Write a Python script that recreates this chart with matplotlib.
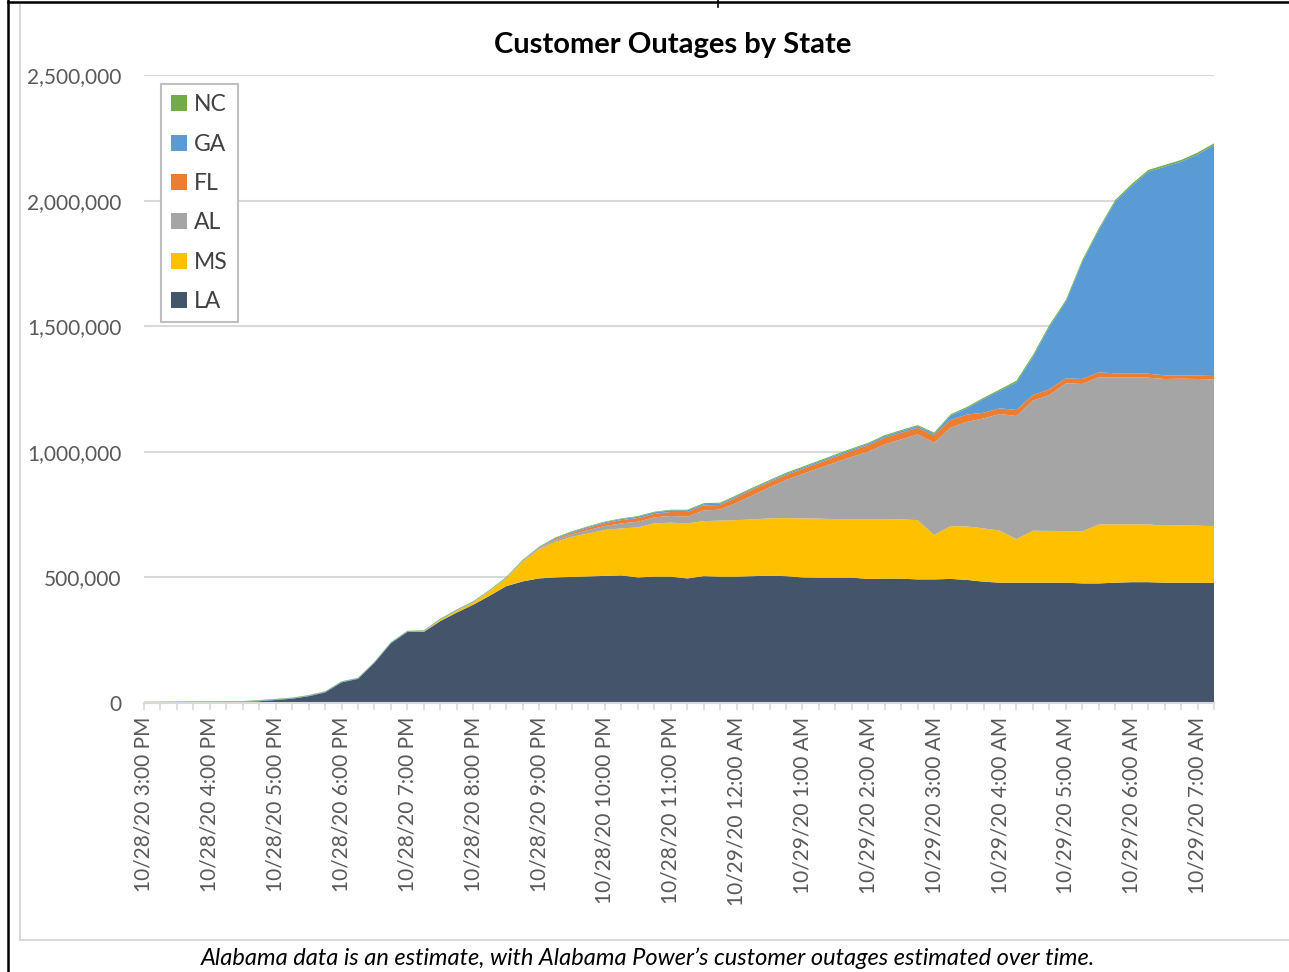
import matplotlib
matplotlib.use("Agg")
import matplotlib.pyplot as plt
from matplotlib.patches import Patch
from matplotlib.lines import Line2D
import numpy as np

# ---------------- data (15-minute intervals, 10/28/20 3:00 PM .. 10/29/20 7:15 AM) -------------
LA = [500, 1000, 1500, 2000, 2500, 3000, 3500, 7000, 12000, 17000,
      27000, 42000, 82000, 96000, 160000, 238000, 283000, 283000, 326000, 360000,
      391000, 427000, 465000, 484000, 496000, 500000, 502000, 504000, 506000, 508000,
      500000, 503000, 503000, 496000, 505000, 503000, 503000, 505000, 507000, 505000,
      500000, 499000, 499000, 499000, 494000, 495000, 495000, 492000, 492000, 494000,
      490000, 483000, 479000, 479000, 479000, 479000, 479000, 476000, 476000, 479000,
      481000, 481000, 479000, 479000, 479000, 478000]
MS = [0, 0, 0, 0, 0, 0, 0, 0, 0, 0,
      0, 0, 0, 0, 0, 0, 0, 2000, 5000, 7000,
      9000, 18000, 30000, 78000, 115000, 142000, 160000, 171000, 183000, 187000,
      199000, 212000, 215000, 219000, 219000, 223000, 225000, 226000, 228000, 231000,
      235000, 235000, 233000, 233000, 238000, 237000, 236000, 236000, 177000, 210000,
      213000, 212000, 207000, 173000, 207000, 206000, 204000, 207000, 235000, 232000,
      230000, 230000, 227000, 229000, 227000, 226000]
AL = [0, 0, 0, 0, 0, 0, 0, 0, 0, 0,
      0, 0, 0, 0, 0, 0, 0, 0, 500, 1000,
      1000, 1500, 2000, 3000, 4000, 6600, 9300, 13300, 16000, 20000,
      22600, 24000, 26500, 26500, 42500, 43800, 69000, 96800, 123400, 151300,
      176400, 200400, 225600, 248100, 268100, 297300, 318500, 341100, 367600, 392000,
      416000, 438000, 464500, 490500, 517600, 541000, 589600, 587000, 585500, 585500,
      585500, 584000, 583800, 583000, 583800, 584500]
FL = [0, 0, 0, 0, 0, 0, 0, 0, 0, 0,
      0, 0, 0, 0, 0, 0, 0, 0, 0, 0,
      0, 0, 500, 1000, 2000, 4000, 6000, 9000, 10700, 13200,
      14600, 14000, 16000, 19000, 19900, 18600, 21300, 22600, 21200, 19900,
      20000, 21200, 22500, 23900, 26500, 26500, 26500, 26500, 29200, 30500,
      29200, 22500, 22600, 23900, 22500, 22600, 19900, 19800, 19900, 15900,
      15900, 15900, 14700, 13500, 14700, 17300]
GA = [2500, 2500, 2500, 2500, 2500, 2500, 2500, 2500, 2500, 2500,
      2500, 2500, 2500, 2500, 2500, 2500, 2500, 2500, 2500, 2500,
      2500, 1500, 1500, 1500, 2800, 4200, 4100, 4100, 4100, 4200,
      5400, 6000, 6500, 6500, 5000, 5000, 5200, 4000, 4000, 5300,
      5200, 5300, 5400, 5300, 5300, 6600, 6600, 6600, 6600, 17600,
      25500, 54700, 70600, 109800, 152300, 249100, 304800, 466800, 566200, 683000,
      746700, 803900, 830300, 850200, 879400, 915200]
NC = [2000, 2000, 2000, 2000, 2000, 2000, 2000, 2000, 2000, 2000,
      2000, 2000, 2000, 2000, 2000, 2000, 2000, 2000, 2000, 2000,
      2000, 2500, 2500, 2500, 2500, 2500, 2500, 2500, 2500, 2500,
      2500, 2500, 2500, 2500, 4000, 4000, 4000, 4000, 4000, 4000,
      4000, 4000, 4000, 4000, 4000, 4000, 4000, 4000, 4000, 5000,
      5000, 5000, 5000, 7000, 7000, 7000, 7000, 7000, 7000, 7000,
      7000, 7000, 7000, 7000, 7000, 7000]

hour_labels = ["10/28/20 3:00 PM", "10/28/20 4:00 PM", "10/28/20 5:00 PM",
               "10/28/20 6:00 PM", "10/28/20 7:00 PM", "10/28/20 8:00 PM",
               "10/28/20 9:00 PM", "10/28/20 10:00 PM", "10/28/20 11:00 PM",
               "10/29/20 12:00 AM", "10/29/20 1:00 AM", "10/29/20 2:00 AM",
               "10/29/20 3:00 AM", "10/29/20 4:00 AM", "10/29/20 5:00 AM",
               "10/29/20 6:00 AM", "10/29/20 7:00 AM"]
y_ticks = [0, 500000, 1000000, 1500000, 2000000, 2500000]
series_names = ["LA", "MS", "AL", "FL", "GA", "NC"]
colors = ["#44546A", "#FFC000", "#A5A5A5", "#ED7D31", "#5B9BD5", "#70AD47"]

title = "Customer Outages by State"
footnote = "Alabama data is an estimate, with Alabama Power\u2019s customer outages estimated over time."

# ---------------- figure ----------------
plt.rcParams['font.family'] = ['Lato', 'DejaVu Sans']
W, H = 1289, 972
fig = plt.figure(figsize=(W / 100, H / 100), dpi=100)
fig.patch.set_facecolor("white")

left, right, top, bottom = 144, 1214, 75, 703
ax = fig.add_axes([left / W, 1 - bottom / H, (right - left) / W, (bottom - top) / H])

x = np.arange(len(LA))
ax.stackplot(x, LA, MS, AL, FL, GA, NC, colors=colors, labels=series_names,
             linewidth=0, zorder=2)

ax.set_xlim(0, len(LA) - 1)
ax.set_ylim(0, 2500000)

ax.set_yticks(y_ticks)
ax.set_yticklabels([f"{v:,}" for v in y_ticks])
ax.yaxis.grid(True, color="#d9d9d9", linewidth=1.5, zorder=0)
ax.set_axisbelow(True)

ax.set_xticks(np.arange(0, len(LA), 4))
ax.set_xticklabels(hour_labels, rotation=90, ha="center", va="top")
ax.set_xticks(x, minor=True)

for s in ["top", "right", "left"]:
    ax.spines[s].set_visible(False)
ax.spines["bottom"].set_color("#d9d9d9")
ax.spines["bottom"].set_linewidth(1.5)
ax.spines["bottom"].set_zorder(3)

ax.tick_params(axis="y", length=0, pad=16, labelsize=15, labelcolor="#595959")
ax.tick_params(axis="x", which="both", direction="out", length=5, width=1.2,
               color="#d9d9d9", pad=5, labelsize=15, labelcolor="#595959")

# legend
handles = [Patch(facecolor=c, edgecolor="none") for c in colors][::-1]
leg = ax.legend(handles, series_names[::-1], loc="upper left",
                bbox_to_anchor=((161 - left) / (right - left), 1 - (84 - top) / (bottom - top)),
                fontsize=16.5, frameon=True, fancybox=False, framealpha=1,
                edgecolor="#bfbfbf", handlelength=0.7, handleheight=0.7,
                handletextpad=0.3, labelspacing=0.8, borderpad=0.45,
                borderaxespad=0)
leg.get_frame().set_linewidth(1.5)
for t in leg.get_texts():
    t.set_color("#404040")

# title & footnote
fig.text(673 / W, 1 - 45 / H, title, ha="center", va="center",
         fontsize=21, fontweight="bold", color="black")
fig.text(648 / W, 1 - 958 / H, footnote, ha="center", va="center",
         fontsize=17, style="italic", color="black")

# frame lines (chart border + table border)
fig.add_artist(Line2D([20 / W, 20 / W], [1 - 5 / H, 1 - 940 / H], color="#d9d9d9", lw=1.5))
fig.add_artist(Line2D([20 / W, 1], [1 - 940 / H, 1 - 940 / H], color="#d9d9d9", lw=1.5))
fig.add_artist(Line2D([8 / W, 8 / W], [0, 1], color="black", lw=1.8))
fig.add_artist(Line2D([8 / W, 1], [1 - 2 / H, 1 - 2 / H], color="black", lw=1.8))
fig.add_artist(Line2D([718 / W, 718 / W], [1, 1 - 7 / H], color="black", lw=1.2))

fig.savefig("out.png", dpi=100, facecolor="white")
